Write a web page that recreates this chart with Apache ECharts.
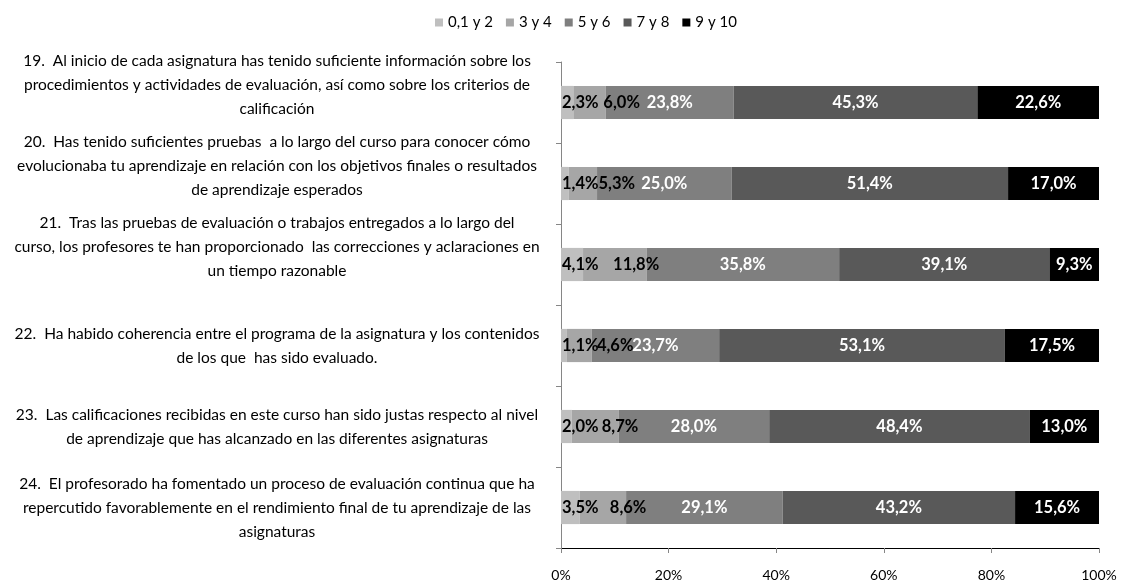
<!DOCTYPE html>
<html>
<head>
<meta charset="utf-8">
<script src="https://cdn.jsdelivr.net/npm/echarts@6/dist/echarts.min.js"></script>
<style>
  html, body { margin: 0; padding: 0; background: #fff; }
  #chart { width: 1123px; height: 585px; }
</style>
</head>
<body>
<div id="chart"></div>
<script>
// categorías (preguntas) y series en %
const questions = [
    '19.  Al inicio de cada asignatura has tenido suficiente información sobre los\nprocedimientos y actividades de evaluación, así como sobre los criterios de\ncalificación',
    '20.  Has tenido suficientes pruebas  a lo largo del curso para conocer cómo\nevolucionaba tu aprendizaje en relación con los objetivos finales o resultados\nde aprendizaje esperados',
    '21.  Tras las pruebas de evaluación o trabajos entregados a lo largo del\ncurso, los profesores te han proporcionado  las correcciones y aclaraciones en\nun tiempo razonable',
    '22.  Ha habido coherencia entre el programa de la asignatura y los contenidos\nde los que  has sido evaluado.',
    '23.  Las calificaciones recibidas en este curso han sido justas respecto al nivel\nde aprendizaje que has alcanzado en las diferentes asignaturas',
    '24.  El profesorado ha fomentado un proceso de evaluación continua que ha\nrepercutido favorablemente en el rendimiento final de tu aprendizaje de las\nasignaturas'
];
const legendNames = ['0,1 y 2', '3 y 4', '5 y 6', '7 y 8', '9 y 10'];
const score012 = [2.3, 1.4, 4.1, 1.1, 2.0, 3.5];
const score34 = [6.0, 5.3, 11.8, 4.6, 8.7, 8.6];
const score56 = [23.8, 25.0, 35.8, 23.7, 28.0, 29.1];
const score78 = [45.3, 51.4, 39.1, 53.1, 48.4, 43.2];
const score910 = [22.6, 17.0, 9.3, 17.5, 13.0, 15.6];
const xTicks = [0, 20, 40, 60, 80, 100];

const colors = ['#bfbfbf', '#a6a6a6', '#7f7f7f', '#595959', '#000000'];
const FONT = 'Lato, "Liberation Sans", sans-serif';

function fmt(v) {
    return v.toFixed(1).replace('.', ',') + '%';
}

function makeSeries(name, values, i) {
    const label = {
        show: true,
        position: 'inside',
        fontFamily: FONT,
        fontWeight: 'bold',
        fontSize: 16.5,
        color: i < 2 ? '#000' : '#fff',
        formatter: p => fmt(p.value)
    };
    if (i === 0) {
        label.position = 'insideLeft';
        label.distance = 1;
    } else if (i === 1) {
        label.position = 'insideLeft';
        label.distance = 30;
    }
    return {
        name: name,
        type: 'bar',
        stack: 'total',
        barWidth: '41%',
        itemStyle: { color: colors[i] },
        label: label,
        labelLayout: { hideOverlap: false },
        emphasis: { disabled: true },
        data: values
    };
}

function initChart() {
    const chart = echarts.init(document.getElementById('chart'));
    const option = {
        animation: false,
        textStyle: { fontFamily: FONT },
        legend: {
            top: 10,
            left: 430,
            itemWidth: 8,
            itemHeight: 8,
            itemGap: 13,
            icon: 'rect',
            textStyle: { fontFamily: FONT, fontSize: 15, color: '#000' },
            data: legendNames
        },
        grid: { left: 561, right: 24, top: 62, bottom: 37, containLabel: false, outerBoundsMode: 'none' },
        xAxis: {
            type: 'value',
            min: xTicks[0],
            max: xTicks[xTicks.length - 1],
            interval: 20,
            splitLine: { show: false },
            axisLine: { show: true, lineStyle: { color: '#000', width: 1 } },
            axisTick: { show: true, length: 5, lineStyle: { color: '#868686' } },
            axisLabel: { margin: 20, fontFamily: FONT, fontSize: 14, color: '#000', formatter: '{value}%' }
        },
        yAxis: {
            type: 'category',
            inverse: true,
            data: questions,
            axisLine: { show: true, lineStyle: { color: '#868686' } },
            axisTick: { show: true, length: 5, lineStyle: { color: '#868686' } },
            axisLabel: {
                interval: 0,
                hideOverlap: false,
                margin: 284,
                align: 'center',
                fontFamily: FONT,
                fontSize: 15.5,
                lineHeight: 24,
                color: '#000',
                // las tres primeras preguntas van algo más arriba en el original
                formatter: (value, idx) => idx < 3 ? value + '\n{gap| }' : value,
                rich: { gap: { fontSize: 2, lineHeight: 36 } }
            }
        },
        series: [
            makeSeries(legendNames[0], score012, 0),
            makeSeries(legendNames[1], score34, 1),
            makeSeries(legendNames[2], score56, 2),
            makeSeries(legendNames[3], score78, 3),
            makeSeries(legendNames[4], score910, 4)
        ]
    };
    chart.setOption(option);
}

document.addEventListener('DOMContentLoaded', initChart);
</script>
</body>
</html>
